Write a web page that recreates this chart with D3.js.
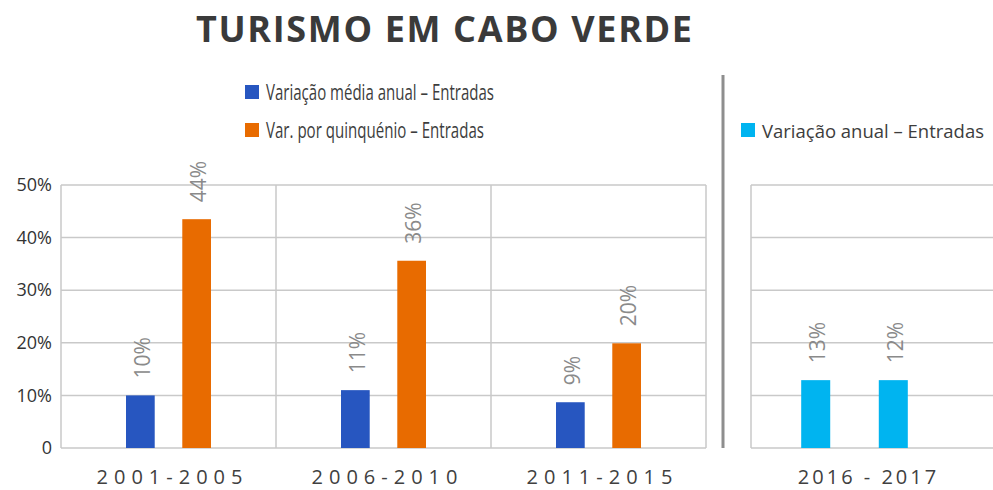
<!DOCTYPE html>
<html>
<head>
<meta charset="utf-8">
<script src="https://cdn.jsdelivr.net/npm/d3@7"></script>
<style>
  html, body { margin: 0; padding: 0; background: #fff; }
  svg { display: block; }
</style>
</head>
<body>
<div id="chart"></div>
<script>
// ---- data ----
const title = "TURISMO EM CABO VERDE";
const periods = ["2001-2005", "2006-2010", "2011-2015"];
const seriesNames = ["Variação média anual – Entradas", "Var. por quinquénio – Entradas"];
const mediaAnual = [10, 11, 8.7];
const quinquenio = [43.5, 35.6, 19.9];
const mediaAnualLabels = ["10%", "11%", "9%"];
const quinquenioLabels = ["44%", "36%", "20%"];
const years = ["2016", "2017"];
const anualName = "Variação anual – Entradas";
const anualValues = [12.9, 12.9];
const anualLabels = ["13%", "12%"];
const rightCategoryLabel = "2016 - 2017";
const yTicks = [0, 10, 20, 30, 40, 50];
const yTickLabels = ["0", "10%", "20%", "30%", "40%", "50%"];
const colors = ["#2756c0", "#e86b00", "#00b4f0"];

// ---- layout ----
const W = 993, H = 490;
const svg = d3.select("#chart").append("svg").attr("width", W).attr("height", H);
const font = "'Open Sans', 'DejaVu Sans', sans-serif";
const gridColor = "#c9c9c9";

const y = d3.scaleLinear().domain([0, 50]).range([448, 185]);

// title
svg.append("text")
  .attr("x", 196).attr("y", 42)
  .attr("textLength", 496).attr("lengthAdjust", "spacing")
  .style("font-family", font).style("font-weight", 700).style("font-size", "36px")
  .style("fill", "#3a3a3a")
  .text(title);

// legends
const legendItems = [
  {name: seriesNames[0], color: colors[0], x: 245, y: 85, w: 228, fs: 21},
  {name: seriesNames[1], color: colors[1], x: 245, y: 123, w: 218, fs: 21},
  {name: anualName, color: colors[2], x: 741, y: 123, w: 222, fs: 19}
];
const lg = svg.append("g").selectAll("g").data(legendItems).join("g")
  .attr("transform", d => `translate(${d.x},${d.y})`);
lg.append("rect").attr("width", 14).attr("height", 14).attr("fill", d => d.color);
lg.append("text").attr("x", 21).attr("y", 15)
  .attr("textLength", d => d.w).attr("lengthAdjust", "spacingAndGlyphs")
  .style("font-family", font).style("font-size", d => d.fs + "px").style("fill", "#3d3d3d")
  .text(d => d.name);

// separator
svg.append("line").attr("x1", 723).attr("x2", 723).attr("y1", 75).attr("y2", 448)
  .attr("stroke", "#8e8e8e").attr("stroke-width", 3);

// ---- left chart ----
const x0 = d3.scaleBand().domain(periods).range([61, 706]);
const x1 = d3.scaleBand().domain([0, 1]).range([0, x0.bandwidth()]).paddingInner(0.49).paddingOuter(1.155);

const left = svg.append("g");
// horizontal grid
left.append("g").selectAll("line").data(yTicks).join("line")
  .attr("x1", 61).attr("x2", 706).attr("y1", d => y(d)).attr("y2", d => y(d))
  .attr("stroke", gridColor).attr("stroke-width", 1.5);
// vertical grid
const vx = periods.map(p => x0(p)).concat([x0.range()[1]]);
left.append("g").selectAll("line").data(vx).join("line")
  .attr("x1", d => d).attr("x2", d => d).attr("y1", y(50)).attr("y2", y(0))
  .attr("stroke", gridColor).attr("stroke-width", 1.5);

// y axis labels
const yAxis = d3.axisLeft(y).tickValues(yTicks).tickFormat((d, i) => yTickLabels[i]).tickSize(0).tickPadding(9);
const ya = svg.append("g").attr("transform", "translate(61,0)").call(yAxis);
ya.select(".domain").remove();
ya.selectAll("text").style("font-family", font).style("font-size", "18px").style("fill", "#333");

const leftData = [];
periods.forEach((p, i) => {
  leftData.push({p, s: 0, v: mediaAnual[i], label: mediaAnualLabels[i]});
  leftData.push({p, s: 1, v: quinquenio[i], label: quinquenioLabels[i]});
});
left.append("g").selectAll("rect").data(leftData).join("rect")
  .attr("x", d => x0(d.p) + x1(d.s)).attr("width", x1.bandwidth())
  .attr("y", d => y(d.v)).attr("height", d => y(0) - y(d.v))
  .attr("fill", d => colors[d.s]);
left.append("g").selectAll("text").data(leftData).join("text")
  .attr("transform", d => `translate(${x0(d.p) + x1(d.s) + x1.bandwidth() / 2 + 9.5},${y(d.v) - 17}) rotate(-90)`)
  .style("font-family", font).style("font-size", "21px").style("fill", "#8a8a8a")
  .text(d => d.label);

// x axis labels
const xAxis = d3.axisBottom(x0).tickSize(0).tickPadding(22);
const xa = svg.append("g").attr("transform", `translate(0,${y(0)})`).call(xAxis);
xa.select(".domain").remove();
xa.selectAll("text").attr("dx", 4)
  .style("font-family", font).style("font-size", "20px").style("letter-spacing", "6px").style("fill", "#404040");

// ---- right chart ----
const xr = d3.scaleBand().domain(years).range([751, 958]).paddingInner(0.626).paddingOuter(0.647);
const right = svg.append("g");
right.append("g").selectAll("line").data(yTicks).join("line")
  .attr("x1", 751).attr("x2", W).attr("y1", d => y(d)).attr("y2", d => y(d))
  .attr("stroke", gridColor).attr("stroke-width", 1.5);
right.append("line").attr("x1", 751).attr("x2", 751).attr("y1", y(50)).attr("y2", y(0))
  .attr("stroke", gridColor).attr("stroke-width", 1.5);
const rightData = years.map((yr, i) => ({yr, v: anualValues[i], label: anualLabels[i]}));
right.append("g").selectAll("rect").data(rightData).join("rect")
  .attr("x", d => xr(d.yr)).attr("width", xr.bandwidth())
  .attr("y", d => y(d.v)).attr("height", d => y(0) - y(d.v))
  .attr("fill", colors[2]);
right.append("g").selectAll("text").data(rightData).join("text")
  .attr("transform", d => `translate(${xr(d.yr) + xr.bandwidth() / 2 + 9.5},${y(d.v) - 17}) rotate(-90)`)
  .style("font-family", font).style("font-size", "21px").style("fill", "#8a8a8a")
  .text(d => d.label);
const rcx = (xr(years[0]) + xr(years[1]) + xr.bandwidth()) / 2;
right.append("text")
  .attr("x", rcx + 14).attr("y", y(0) + 22).attr("dy", "0.71em")
  .attr("text-anchor", "middle")
  .style("font-family", font).style("font-size", "20px").style("letter-spacing", "3px").style("fill", "#404040")
  .text(rightCategoryLabel);
</script>
</body>
</html>
